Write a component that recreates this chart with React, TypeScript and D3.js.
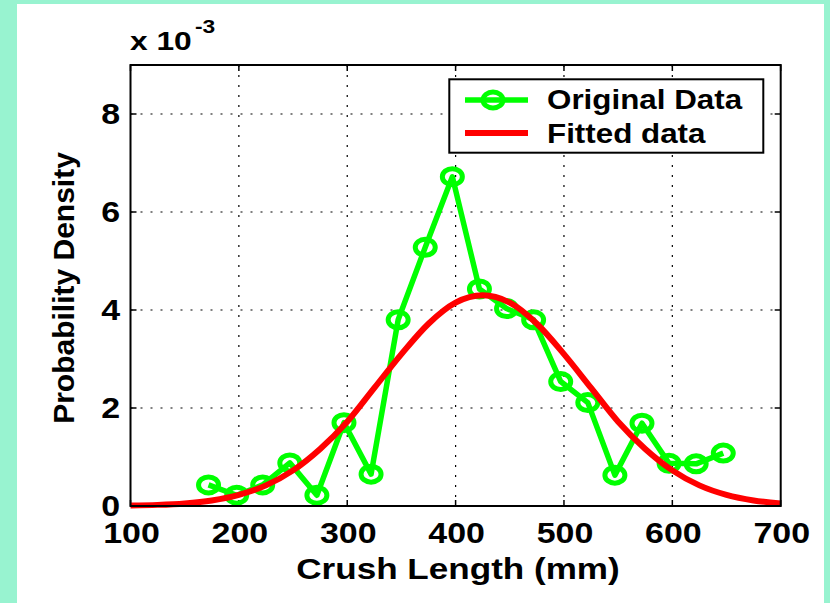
import React from "react";
import * as d3 from "d3";

const crushLength = [172, 198, 222, 247, 272, 297, 322, 347, 372, 397, 422, 447, 472, 497, 522, 547, 572, 597, 622, 647];
const originalDensity = [0.43, 0.22, 0.43, 0.88, 0.22, 1.7, 0.65, 3.8, 5.28, 6.72, 4.43, 4.03, 3.8, 2.54, 2.11, 0.63, 1.69, 0.87, 0.86, 1.08];

const fitX = [100, 125, 150, 175, 200, 225, 250, 275, 300, 325, 350, 375, 400, 425, 450, 475, 500, 525, 550, 575, 600, 625, 650, 675, 700];
const fitDensity = [0.01, 0.023, 0.053, 0.114, 0.227, 0.421, 0.727, 1.165, 1.72, 2.41, 3.1, 3.72, 4.15, 4.3, 4.15, 3.72, 3.1, 2.41, 1.72, 1.165, 0.727, 0.421, 0.227, 0.114, 0.053];

const xTicks = [100, 200, 300, 400, 500, 600, 700];
const yTicks = [0, 2, 4, 6, 8];
const legendLabels = ["Original Data", "Fitted data"];

const W = 830, H = 603;
const L = 130.5, R = 780.7, T = 65, B = 506;
const FONT = "'Liberation Sans', Arial, Helvetica, sans-serif";
const SX = 1.17;

function SText({ x, y, size, anchor = "start", sx = SX, children }: any) {
  return (
    <text
      transform={`translate(${x},${y}) scale(${sx},1)`}
      fontFamily={FONT}
      fontWeight="bold"
      fontSize={size}
      textAnchor={anchor}
      fill="#000"
    >
      {children}
    </text>
  );
}

export default function App() {
  const x = d3.scaleLinear().domain([100, 700]).range([L, R]);
  const y = d3.scaleLinear().domain([0, 9]).range([B, T]);

  const origPts = crushLength.map((c, i) => [c, originalDensity[i]] as [number, number]);
  const fitPts = fitX.map((c, i) => [c, fitDensity[i]] as [number, number]);

  const origLine = d3.line<[number, number]>().x(d => x(d[0])).y(d => y(d[1]));
  const fitLine = d3
    .line<[number, number]>()
    .x(d => x(d[0]))
    .y(d => y(d[1]))
    .curve(d3.curveMonotoneX);

  const gridX = xTicks.filter(t => t > 100 && t < 700);
  const gridY = yTicks.filter(t => t > 0);
  const tickLen = 6;

  const legL = 449.3, legT = 79.3, legR = 763.3, legB = 152.7;
  const row1 = 100, row2 = 133;

  return (
    <svg width={W} height={H} style={{ position: "absolute", left: 0, top: 0 }}>
      <rect x={0} y={0} width={W} height={H} fill="#98F3D0" />
      <rect x={17} y={4} width={824 - 17} height={H - 4} fill="#fff" />

      {/* grid */}
      {gridX.map(t => (
        <line key={"gx" + t} x1={x(t)} x2={x(t)} y1={T} y2={B} stroke="#000" strokeWidth={1.2} strokeDasharray="2,8" />
      ))}
      {gridY.map(t => (
        <line key={"gy" + t} x1={L} x2={R} y1={y(t)} y2={y(t)} stroke="#000" strokeWidth={1.2} strokeDasharray="2,8" />
      ))}

      {/* ticks */}
      {xTicks.map(t => (
        <g key={"xt" + t}>
          <line x1={x(t)} x2={x(t)} y1={B} y2={B - tickLen} stroke="#000" strokeWidth={1.5} />
          <line x1={x(t)} x2={x(t)} y1={T} y2={T + tickLen} stroke="#000" strokeWidth={1.5} />
        </g>
      ))}
      {yTicks.map(t => (
        <g key={"yt" + t}>
          <line x1={L} x2={L + tickLen} y1={y(t)} y2={y(t)} stroke="#000" strokeWidth={1.5} />
          <line x1={R} x2={R - tickLen} y1={y(t)} y2={y(t)} stroke="#000" strokeWidth={1.5} />
        </g>
      ))}

      {/* data */}
      <path d={origLine(origPts) || ""} fill="none" stroke="#00FF00" strokeWidth={5.5} strokeLinejoin="round" />
      {origPts.map((p, i) => (
        <ellipse key={"m" + i} cx={x(p[0])} cy={y(p[1])} rx={10} ry={8} fill="none" stroke="#00FF00" strokeWidth={5} />
      ))}
      <path d={fitLine(fitPts) || ""} fill="none" stroke="#FF0000" strokeWidth={6} />

      {/* axes box */}
      <rect x={L} y={T} width={R - L} height={B - T} fill="none" stroke="#000" strokeWidth={2} />

      {/* legend */}
      <rect x={legL} y={legT} width={legR - legL} height={legB - legT} fill="#fff" stroke="#000" strokeWidth={2} />
      <line x1={465} x2={528} y1={row1} y2={row1} stroke="#00FF00" strokeWidth={5.5} />
      <ellipse cx={493} cy={row1} rx={10} ry={8} fill="none" stroke="#00FF00" strokeWidth={5} />
      <line x1={465} x2={528} y1={row2} y2={row2} stroke="#FF0000" strokeWidth={6} />
      <SText x={547} y={109} size={28} sx={1.12}>{legendLabels[0]}</SText>
      <SText x={547} y={143} size={28} sx={1.12}>{legendLabels[1]}</SText>

      {/* tick labels */}
      {xTicks.map(t => (
        <SText key={"xl" + t} x={x(t) + 1} y={543} size={29} anchor="middle">{t}</SText>
      ))}
      {yTicks.map(t => (
        <SText key={"yl" + t} x={120} y={y(t) + 10} size={29} anchor="end">{t}</SText>
      ))}

      {/* axis labels */}
      <SText x={458} y={579} size={30} anchor="middle">Crush Length (mm)</SText>
      <text
        transform={`translate(74,288) rotate(-90)`}
        fontFamily={FONT}
        fontWeight="bold"
        fontSize={30}
        textAnchor="middle"
        fill="#000"
      >
        Probability Density
      </text>

      {/* exponent */}
      <SText x={130} y={50} size={25} sx={1.27}>x 10</SText>
      <SText x={195} y={33} size={19} sx={1.2}>-3</SText>
    </svg>
  );
}
